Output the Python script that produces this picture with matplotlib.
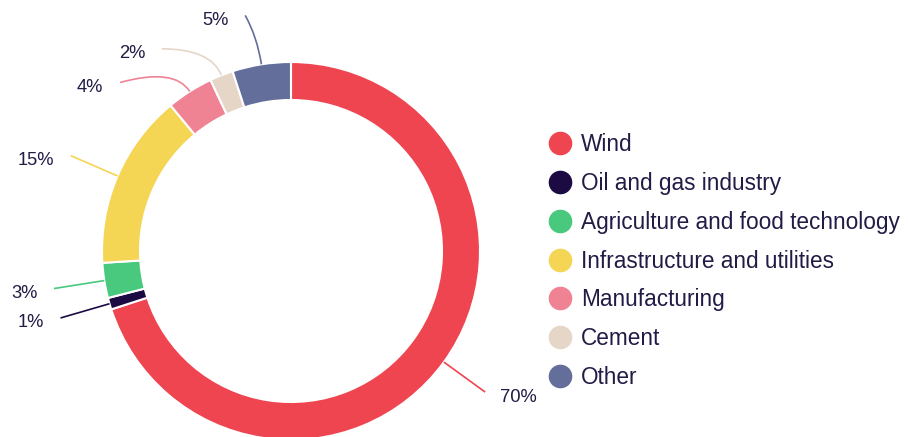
import numpy as np
import matplotlib.pyplot as plt
from matplotlib.path import Path
from matplotlib.patches import PathPatch
from matplotlib.lines import Line2D

# data
sectors = ['Wind', 'Oil and gas industry', 'Agriculture and food technology',
           'Infrastructure and utilities', 'Manufacturing', 'Cement', 'Other']
shares = [70, 1, 3, 15, 4, 2, 5]
colors = ['#ef4550', '#1c0b42', '#48c97e', '#f4d554', '#f08393', '#e5d6c8', '#636e9b']

# label nudges (deg) so the small slices near the top don't collide
label_shift = [0, 0, 0, 0, 13, 11, 2]

plt.rcParams['font.family'] = ['Liberation Sans', 'DejaVu Sans']
text_color = '#231a45'

fig = plt.figure(figsize=(9.08, 4.37), dpi=100)
ax = fig.add_axes([0, 0, 1, 1])

R = 189  # outer radius in px
wedges, _ = ax.pie(shares, colors=colors, startangle=90, counterclock=False, radius=1,
                   wedgeprops=dict(width=38 / R, edgecolor='white', linewidth=1.5))
ax.set_xlim(-291 / R, (908 - 291) / R)
ax.set_ylim((251 - 437) / R, 251 / R)
ax.set_aspect('auto')
ax.axis('off')

# leader lines + percent labels
for w, c, s, shift in zip(wedges, colors, shares, label_shift):
    mid = np.deg2rad((w.theta1 + w.theta2) / 2)
    end = mid + np.deg2rad(shift)
    p0 = (np.cos(mid), np.sin(mid))
    p1 = (1.15 * np.cos(mid), 1.15 * np.sin(mid))
    p2 = (1.27 * np.cos(end), 1.27 * np.sin(end))
    path = Path([p0, p1, p2], [Path.MOVETO, Path.CURVE3, Path.CURVE3])
    ax.add_patch(PathPatch(path, fill=False, edgecolor=c, lw=1.2))
    right = p2[0] > 0
    ax.annotate(f'{s}%', xy=p2, xytext=(11 if right else -12, -3.6),
                textcoords='offset points', ha='left' if right else 'right',
                va='center', fontsize=13.2, color=text_color)

handles = [Line2D([], [], marker='o', linestyle='', markersize=16,
                  markerfacecolor=c, markeredgecolor=c) for c in colors]
leg = fig.legend(handles, sectors, loc='center left', bbox_to_anchor=(0.6046, 0.4027),
                 frameon=False, fontsize=16.3, handlelength=1.0, handletextpad=0.4,
                 labelspacing=0.70, borderpad=0, borderaxespad=0)
for t in leg.get_texts():
    t.set_color(text_color)

plt.savefig('out.png', dpi=100)
